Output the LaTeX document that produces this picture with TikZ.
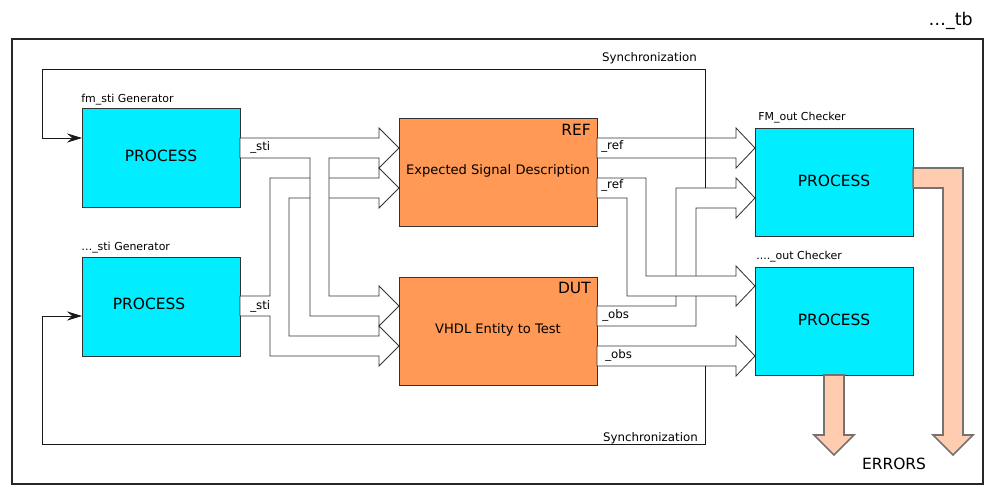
\documentclass[tikz,border=0pt]{standalone}
\usepackage{fontspec}
\setmainfont{DejaVu Sans}
\usetikzlibrary{arrows.meta}
\definecolor{procblue}{HTML}{00EEFF}
\definecolor{vhdlorange}{HTML}{FF9955}
\definecolor{errpeach}{HTML}{FFCCB0}

\begin{document}
\begin{tikzpicture}[x=0.025cm,y=-0.025cm,
		box/.style={draw=black!80,line width=0.6pt,outer sep=0pt,inner sep=0pt},
		proc/.style={box,fill=procblue,minimum width=3.95cm,font=\fontsize{11}{13}\selectfont},
		vhdl/.style={box,fill=vhdlorange,minimum width=4.95cm,minimum height=2.7cm,font=\fontsize{9.3}{11}\selectfont},
		bus/.style={draw=black!80,fill=white,line width=0.6pt},
		err/.style={draw=black!55,fill=errpeach,line width=1.1pt},
		sync/.style={draw=black!90,line width=0.6pt},
		head/.style={font=\fontsize{7.8}{9}\selectfont,inner sep=0pt},
		lbl/.style={font=\fontsize{8.4}{10}\selectfont,inner sep=0pt},
		tag/.style={font=\fontsize{11}{13}\selectfont,inner sep=0pt}]
				\useasboundingbox (0,0) rectangle (1005,503);
				\draw[black!85,line width=0.8pt] (12,39) rectangle (983,484);
				\node[tag,anchor=east,font=\fontsize{12.4}{14}\selectfont] (tb) at (973,21){…\_tb};

				\node[proc,minimum height=2.475cm] (fmgen) at (161,157.5){\raisebox{0.1cm}{PROCESS}};
				\node[proc,minimum height=2.475cm] (stigen) at (161,306.5){\raisebox{0.15cm}{PROCESS}\kern0.6cm};
				\node[vhdl] (ref) at (498,172.5){\raisebox{0.15cm}{Expected Signal Description}};
				\node[vhdl] (dut) at (498,331){\raisebox{0.1cm}{VHDL Entity to Test}};
				\node[proc,minimum height=2.7cm] (fmchk) at (834,182.5){\raisebox{0.07cm}{PROCESS}};
				\node[proc,minimum height=2.7cm] (outchk) at (834,321){\raisebox{0.07cm}{PROCESS}};

				\node[head,anchor=west] (fmgenlbl) at (81,100){fm\_sti Generator};
				\node[head,anchor=west] (stigenlbl) at (81,248){…\_sti Generator};
				\node[head,anchor=west] (fmchklbl) at (758,118){FM\_out Checker};
				\node[head,anchor=west] (outchklbl) at (756,257){....\_out Checker};
				\node[tag,anchor=east] (reftag) at (591,130){REF};
				\node[tag,anchor=east] (duttag) at (591,288){DUT};

				\draw[bus] (stigen.east|-0,296) -- (270,296) -- (270,178) -- (379,178) -- (379,168) -- (ref.west|-0,188) -- (379,208) -- (379,198) -- (289,198) -- (289,336) -- (379,336) -- (379,326) -- (dut.west|-0,346) -- (379,366) -- (379,356) -- (270,356) -- (270,316) -- (stigen.east|-0,316) -- cycle;
				\draw[bus] (fmgen.east|-0,138) -- (379,138) -- (379,128) -- (ref.west|-0,148) -- (379,168) -- (379,158) -- (329,158) -- (329,296) -- (379,296) -- (379,286) -- (dut.west|-0,306) -- (379,326) -- (379,316) -- (310,316) -- (310,158) -- (fmgen.east|-0,158) -- cycle;

				\draw[bus] (ref.east|-0,138) -- (736,138) -- (736,128) -- (fmchk.west|-0,148) -- (736,168) -- (736,158) -- (ref.east|-0,158) -- cycle;
				\draw[bus] (dut.east|-0,306) -- (676,306) -- (676,188) -- (736,188) -- (736,178) -- (fmchk.west|-0,198) -- (736,218) -- (736,208) -- (696,208) -- (696,326) -- (dut.east|-0,326) -- cycle;
				\draw[bus] (ref.east|-0,178) -- (646,178) -- (646,276) -- (736,276) -- (736,266) -- (outchk.west|-0,286) -- (736,306) -- (736,296) -- (627,296) -- (627,198) -- (ref.east|-0,198) -- cycle;
				\draw[bus] (dut.east|-0,346) -- (736,346) -- (736,336) -- (outchk.west|-0,356) -- (736,376) -- (736,366) -- (dut.east|-0,366) -- cycle;

				\node[lbl,anchor=west] (stia) at (250,147){\_sti};
				\node[lbl,anchor=west] (stib) at (250,306){\_sti};
				\node[lbl,anchor=west] (refa) at (601,146){\_ref};
				\node[lbl,anchor=west] (refb) at (601,185){\_ref};
				\node[lbl,anchor=west] (obsa) at (602,315){\_obs};
				\node[lbl,anchor=west] (obsb) at (605,355){\_obs};

				\coordinate (synca) at (705,188);
				\coordinate (syncb) at (705,366);
				\draw[sync,-{Stealth[length=3.75mm,width=2.3mm,inset=1.3mm]}] (synca) -- (705,69) -- (42,69) -- (42,138) -- (fmgen.west|-0,138);
				\draw[sync,-{Stealth[length=3.75mm,width=2.3mm,inset=1.3mm]}] (syncb) -- (705,444) -- (42,444) -- (42,316) -- (stigen.west|-0,316);
				\node[lbl,anchor=east] (syncalbl) at (697,58){Synchronization};
				\node[lbl,anchor=east] (syncblbl) at (698,438){Synchronization};

				\node[tag] (errors) at (894,464){ERRORS};
				\draw[err] (fmchk.east|-0,168) -- (963,168) -- (963,435) -- (973,435) -- (953,455) -- (933,435) -- (943,435) -- (943,188) -- (fmchk.east|-0,188) -- cycle;
				\draw[err] (outchk.south-|824,0) -- (824,435) -- (814,435) -- (834,455) -- (854,435) -- (844,435) -- (outchk.south-|844,0) -- cycle;
			\end{tikzpicture}
\end{document}
